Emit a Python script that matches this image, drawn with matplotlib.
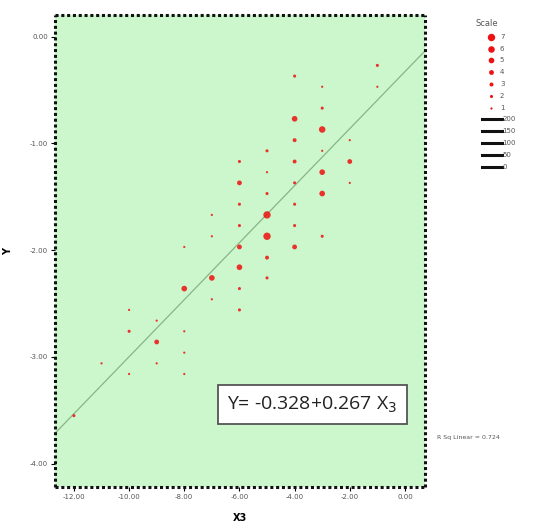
import matplotlib
matplotlib.use("Agg")
import matplotlib.pyplot as plt
import numpy as np

# point data (x3, y, count)
x3 = [-1, -1,
      -3, -3, -3, -3, -3, -3, -3,
      -4, -4, -4, -4, -4, -4, -4, -4,
      -2, -2, -2,
      -5, -5, -5, -5, -5, -5, -5,
      -6, -6, -6, -6, -6, -6, -6, -6,
      -7, -7, -7, -7,
      -8, -8, -8, -8, -8,
      -9, -9, -9,
      -10, -10, -10,
      -11, -12]
y = [-0.27, -0.47,
     -0.47, -0.67, -0.87, -1.07, -1.27, -1.47, -1.87,
     -0.37, -0.77, -0.97, -1.17, -1.37, -1.57, -1.77, -1.97,
     -0.97, -1.17, -1.37,
     -1.07, -1.27, -1.47, -1.67, -1.87, -2.07, -2.26,
     -1.17, -1.37, -1.57, -1.77, -1.97, -2.16, -2.36, -2.56,
     -1.67, -1.87, -2.26, -2.46,
     -1.97, -2.36, -2.76, -2.96, -3.16,
     -2.66, -2.86, -3.06,
     -2.56, -2.76, -3.16,
     -3.06, -3.55]
counts = [2, 1,
          1, 2, 6, 1, 5, 5, 2,
          2, 5, 3, 3, 2, 2, 2, 4,
          1, 4, 1,
          2, 1, 2, 7, 7, 3, 2,
          2, 4, 2, 2, 4, 5, 2, 2,
          1, 1, 5, 1,
          1, 5, 1, 1, 1,
          1, 4, 1,
          1, 2, 1,
          1, 2]

intercept, slope = -0.328, 0.267
r_sq = 0.724
x_ticks = [-12, -10, -8, -6, -4, -2, 0]
y_ticks = [0, -1, -2, -3, -4]
scale_levels = [7, 6, 5, 4, 3, 2, 1]
width_levels = [200, 150, 100, 50, 0]

BG = "#ccf7cc"
RED = "#ee1111"


def msize(c):
    return 1.6 + (c - 1) * 0.62


fig = plt.figure(figsize=(5.33, 5.25), dpi=100)
ax = fig.add_axes([0.103, 0.072, 0.694, 0.899])
ax.set_facecolor(BG)

ax.scatter(x3, y, s=[msize(c) ** 2 for c in counts], color=RED,
           edgecolors="none", alpha=0.85, zorder=3)

xl = (-12.69, 0.72)
xs = np.array(xl)
ax.plot(xs, intercept + slope * xs, color="#88b488", lw=0.9, zorder=2)

ax.set_xlim(*xl)
ax.set_ylim(-4.22, 0.2)
ax.set_xticks(x_ticks)
ax.set_yticks(y_ticks)
ax.set_xticklabels([f"{v:.2f}" for v in x_ticks], fontsize=5, color="#555555")
ax.set_yticklabels([f"{v:.2f}" for v in y_ticks], fontsize=5, color="#555555")
ax.tick_params(length=3, width=0.8, pad=2)

for sp in ax.spines.values():
    sp.set_linestyle((0, (1, 0.9)))
    sp.set_linewidth(2.2)
    sp.set_color("#111111")
    sp.set_capstyle("butt")

ax.set_xlabel("X3", fontsize=7, fontweight="bold", labelpad=9)
ax.set_ylabel("Y", fontsize=7, fontweight="bold", labelpad=12)

ax.text(0.696, 0.175, f"Y= {intercept}+{slope} X$_{{3}}$",
        transform=ax.transAxes, ha="center", va="center",
        fontsize=14, family="Open Sans", color="#222222",
        bbox=dict(boxstyle="square,pad=0.5", fc="white", ec="#555555", lw=1.3))

fig.text(0.82, 0.167, f"R Sq Linear = {r_sq}", fontsize=4.5, color="#555555",
         va="center")

# legend
fig.text(0.914, 0.956, "Scale", fontsize=6, color="#555555", ha="center",
         va="center")
for i, c in enumerate(scale_levels):
    yy = 0.930 - i * 0.0225
    fig.add_artist(plt.Line2D([0.921], [yy], marker="o", ms=msize(c),
                              color=RED, mec="none", lw=0))
    fig.text(0.938, yy, str(c), fontsize=5, color="#555555", va="center")
for i, w in enumerate(width_levels):
    yy = 0.773 - i * 0.0228
    fig.add_artist(plt.Line2D([0.904, 0.941], [yy, yy], color="#111111",
                              lw=2.2))
    fig.text(0.943, yy, str(w), fontsize=5, color="#555555", va="center")

fig.savefig("out.png", dpi=100, facecolor="white")
